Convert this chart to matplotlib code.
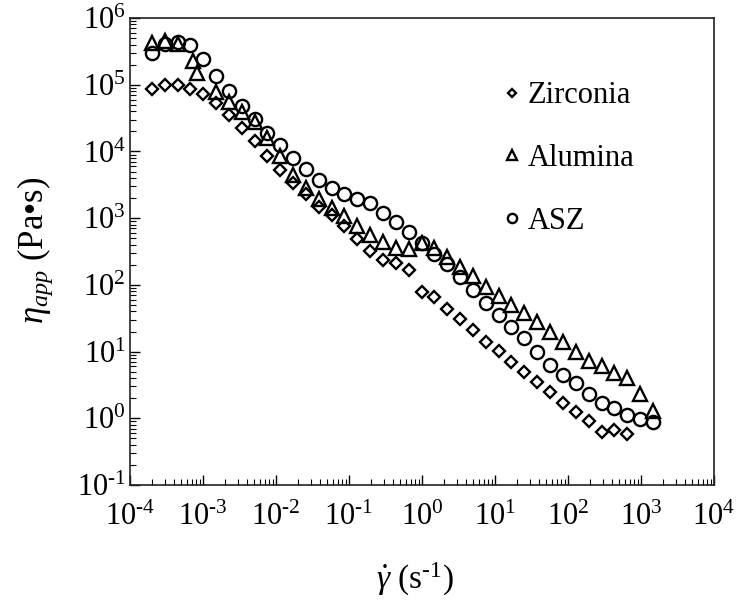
import numpy as np
import matplotlib
matplotlib.use("Agg")
import matplotlib.pyplot as plt
from matplotlib.ticker import LogLocator, FuncFormatter, NullFormatter

plt.rcParams['font.family'] = ['Liberation Serif', 'DejaVu Serif']
plt.rcParams['mathtext.fontset'] = 'custom'
plt.rcParams['mathtext.rm'] = 'Liberation Serif'
plt.rcParams['mathtext.it'] = 'Liberation Serif:italic'

# shear rate (1/s)
shear_rate = [2.0e-4, 3.0e-4, 4.5e-4, 6.7e-4, 1.0e-3, 1.5e-3, 2.25e-3, 3.4e-3, 5.1e-3, 7.6e-3,
              0.0114, 0.0171, 0.0256, 0.0384, 0.0577, 0.0865, 0.130, 0.195, 0.292, 0.438,
              0.657, 0.985, 1.48, 2.22, 3.33, 4.99, 7.48, 11.2, 16.8, 25.3,
              37.9, 56.8, 85.2, 128, 192, 288, 432, 648, 972, 1458]

zirconia_x = shear_rate[:38]
zirconia_eta = [85350, 99000, 99000, 85350, 72560, 52640, 35140, 22680, 14330, 8540,
                5360, 3330, 2300, 1484, 1114, 775, 487, 322, 240, 210,
                165, 79.5, 66.4, 43.1, 30.8, 21.0, 14.05, 10.2, 7.04, 4.99,
                3.53, 2.50, 1.71, 1.254, 0.919, 0.616, 0.667, 0.575]

alumina_x = [2.0e-4, 3.0e-4, 4.5e-4, 7.3e-4, 8.3e-4, 1.5e-3, 2.25e-3, 3.4e-3, 5.1e-3, 7.6e-3,
             0.0114, 0.0171, 0.0256, 0.0384, 0.0577, 0.0865, 0.130, 0.195, 0.292, 0.438,
             0.657, 0.985, 1.48, 2.22, 3.33, 4.99, 7.48, 11.2, 16.8, 25.3,
             37.9, 56.8, 85.2, 128, 192, 288, 432, 648, 972, 1458]
alumina_eta = [417600, 456700, 407700, 226700, 149800, 78600, 55640, 39390, 27890, 15730,
               8685, 4431, 2800, 1949, 1404, 1076, 775, 568, 443, 353,
               347, 424, 359, 264, 188, 136.6, 93.4, 68.0, 49.9, 37.4,
               27.3, 19.6, 13.8, 9.95, 7.34, 6.18, 4.82, 4.06, 2.29, 1.30]

asz_x = shear_rate
asz_eta = [295700, 407700, 441200, 393900, 240400, 136000, 81900, 47960, 30620, 19090,
           12480, 7886, 5546, 3794, 2849, 2324, 1915, 1686, 1214, 884,
           620, 427, 293, 209, 131, 83.7, 53.4, 35.3, 23.7, 16.1,
           9.95, 6.40, 4.45, 3.34, 2.33, 1.72, 1.41, 1.12, 0.965, 0.888]

labels = ['Zirconia', 'Alumina', 'ASZ']

HY = '\u2010'

fig = plt.figure(figsize=(7.46, 6.01), dpi=100)
ax = fig.add_axes([0.1743, 0.1930, 0.7828, 0.7770])

common = dict(linestyle='none', markerfacecolor='none', markeredgecolor='black', markeredgewidth=1.7)
ax.plot(zirconia_x, zirconia_eta, marker='D', markersize=6.3, label=labels[0], **common)
ax.plot(alumina_x, alumina_eta, marker='^', markersize=9.5, label=labels[1], **common)
ax.plot(asz_x, asz_eta, marker='o', markersize=9.5, label=labels[2], **common)

ax.set_xscale('log')
ax.set_yscale('log')
ax.set_xlim(1e-4, 1e4)
ax.set_ylim(1e-1, 1e6)

def fmt(v, pos):
    e = int(round(np.log10(v)))
    s = str(e).replace('-', HY)
    return '10$^{' + s + '}$'

for axis in (ax.xaxis, ax.yaxis):
    axis.set_major_locator(LogLocator(base=10, numticks=20))
    axis.set_minor_locator(LogLocator(base=10, subs=np.arange(2, 10), numticks=20))
    axis.set_major_formatter(FuncFormatter(fmt))
    axis.set_minor_formatter(NullFormatter())

ax.tick_params(which='both', direction='in', top=False, right=False, labelsize=22, colors='black')
ax.tick_params(which='major', length=7, width=1.0)
ax.tick_params(which='minor', length=4, width=0.8)
ax.tick_params(axis='x', pad=13)
ax.tick_params(axis='y', pad=3)
for sp in ax.spines.values():
    sp.set_linewidth(1.2)
    sp.set_color('#222222')

ax.set_ylabel('$\\eta_{app}$ (Pa\u2022s)', fontsize=25)
ax.set_xlabel('$\\dot{\\gamma}$ (s$^{' + HY + '1}$)', fontsize=24)
ax.xaxis.label.set_va('center')
ax.yaxis.label.set_va('center')
ax.xaxis.set_label_coords(0.488, -0.203)
ax.yaxis.set_label_coords(-0.163, 0.503)

leg = ax.legend(loc='upper left', bbox_to_anchor=(0.607, 0.91), frameon=False, fontsize=22,
                markerscale=0.7, handlelength=0.4, handletextpad=0.3, labelspacing=1.1,
                borderpad=0.2, borderaxespad=0.5)

fig.savefig('out.png', dpi=100)
